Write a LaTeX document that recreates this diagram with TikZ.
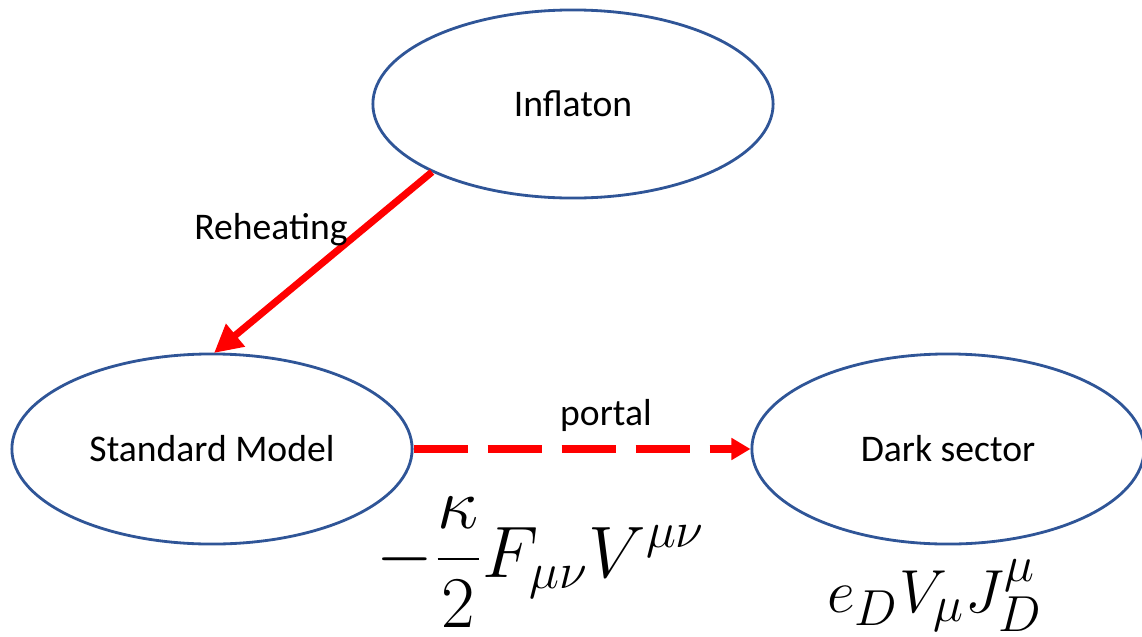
\documentclass[tikz,border=0pt]{standalone}
\usepackage{fontspec}
\setmainfont{Carlito}
\usetikzlibrary{arrows.meta,shapes.geometric}

\definecolor{ovalblue}{RGB}{47,85,151}

\begin{document}
\begin{tikzpicture}[x=0.01cm, y=-0.01cm, >=Triangle, line width=2pt]
        % Rahmen (Pixelmass 1142 x 636)
        \useasboundingbox (0,0) rectangle (1142,636);
        \tikzset{
            sector/.style={ellipse, draw=ovalblue, line width=0.8pt, inner sep=0pt,
                minimum width=4cm, minimum height=1.9cm,
                font=\fontsize{10.7}{13}\selectfont},
            lbl/.style={font=\fontsize{10.7}{13}\selectfont},
            formula/.style={font=\fontsize{19}{23}\selectfont}
        }
        
        % die drei Sektoren
        \node[sector, minimum height=1.88cm] (infl) at (573,104) {Inflaton};
        \node[sector] (sm) at (212,449) {Standard Model};
        \node[sector, minimum width=3.92cm] (dark) at (948,449) {Dark sector};
        
        % Reheating: Inflaton -> SM
        \coordinate (rh) at (432,172);
        \coordinate (smtop) at (214,353);
        \draw[->, red, >={Triangle[length=0.28cm, width=0.28cm]}] (rh) -- (smtop);
        \node[lbl] (reheat) at (271,230) {Reheating};
        
        % Portal: SM -> dunkler Sektor (gestrichelt)
        \draw[->, red, dash pattern=on 0.54cm off 0.2cm, >={Triangle[length=0.19cm, width=0.21cm]}] (sm.east) -- (dark.west);
        \node[lbl] (portal) at (606,415) {portal};
        
        % Kopplungen
        \node[formula, font=\fontsize{19.5}{24}\selectfont, inner sep=0pt] (kin) at (541,562) {$\displaystyle -\frac{\kappa}{2}F_{\mu\nu}V^{\mu\nu}$};
        \node[formula, anchor=base] (cur) at (935,612) {$e_D V_\mu J^\mu_D$};
        
    \end{tikzpicture}
\end{document}
